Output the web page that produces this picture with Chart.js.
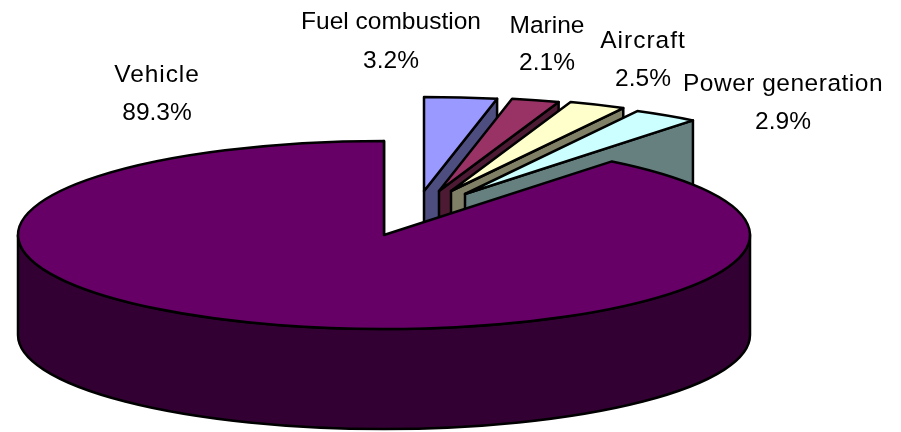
<!DOCTYPE html>
<html lang="en">
<head>
<meta charset="utf-8">
<title>Emission sources</title>
<script src="https://cdn.jsdelivr.net/npm/chart.js@4"></script>
<style>
  html, body { margin: 0; background: #ffffff; }
  canvas { display: block; }
</style>
</head>
<body>
<canvas id="sourcesChart" width="901" height="432"></canvas>
<script>
const categories = ['Vehicle', 'Fuel combustion', 'Marine', 'Aircraft', 'Power generation']
const shares = [89.3, 3.2, 2.1, 2.5, 2.9]

const topColors = ['#660066', '#9999ff', '#993366', '#ffffcc', '#ccffff']
const sideColors = ['#330033', '#4d4d80', '#4d1a33', '#808066', '#668080']

// Doughnut arcs give the angles and radius, this turns them into a tilted 3D pie
const pie3d = {
  id: 'pie3d',

  beforeDatasetDraw(chart, args, opts) {
    const { ctx } = chart
    const arcs = chart.getDatasetMeta(0).data
    // exploded slices sit behind the big one, so paint it last
    const order = arcs.map((_, i) => i).slice(1).concat(0)

    ctx.save()
    ctx.lineWidth = opts.lineWidth
    ctx.lineJoin = 'round'
    ctx.strokeStyle = '#000000'
    order.forEach(i => this.drawSlice(ctx, arcs[i], i, opts))
    ctx.restore()
    return false
  },

  drawSlice(ctx, arc, i, opts) {
    const [dx, dy] = opts.explode[i]
    const cx = arc.x + dx
    const cy = arc.y + dy
    const rx = arc.outerRadius
    const ry = rx * opts.tilt
    const depth = opts.depth
    const start = arc.startAngle
    const end = arc.endAngle

    ctx.fillStyle = sideColors[i]

    // cut wall along the clockwise edge
    const ex = cx + rx * Math.cos(end)
    const ey = cy + ry * Math.sin(end)
    ctx.beginPath()
    ctx.moveTo(cx, cy)
    ctx.lineTo(ex, ey)
    ctx.lineTo(ex, ey + depth)
    ctx.lineTo(cx, cy + depth)
    ctx.closePath()
    ctx.fill()
    ctx.stroke()

    // outer wall, only the part facing front
    const lo = Math.max(start, 0)
    const hi = Math.min(end, Math.PI)
    if (hi > lo) {
      ctx.beginPath()
      ctx.ellipse(cx, cy, rx, ry, 0, lo, hi)
      ctx.ellipse(cx, cy + depth, rx, ry, 0, hi, lo, true)
      ctx.closePath()
      ctx.fill()
      ctx.stroke()
    }

    // top face
    ctx.fillStyle = topColors[i]
    ctx.beginPath()
    ctx.moveTo(cx, cy)
    ctx.ellipse(cx, cy, rx, ry, 0, start, end)
    ctx.closePath()
    ctx.fill()
    ctx.stroke()
  },

  afterDraw(chart, args, opts) {
    const { ctx } = chart
    ctx.save()
    ctx.fillStyle = '#000000'
    ctx.font = opts.font
    ctx.textAlign = 'center'
    categories.forEach((name, i) => {
      const [x, y1, y2, spacing] = opts.labels[i]
      ctx.letterSpacing = spacing + 'px'
      ctx.fillText(name, x, y1)
      ctx.letterSpacing = '0px'
      ctx.fillText(shares[i].toFixed(1) + '%', x, y2)
    })
    ctx.restore()
  }
}

new Chart(document.getElementById('sourcesChart'), {
  type: 'pie',
  data: {
    labels: categories,
    datasets: [{
      data: shares,
      backgroundColor: topColors,
      borderWidth: 0
    }]
  },
  options: {
    responsive: false,
    animation: false,
    radius: 366,
    rotation: 38.52,
    layout: {
      padding: { top: 38, right: 133 }
    },
    plugins: {
      legend: { display: false },
      tooltip: { enabled: false },
      pie3d: {
        tilt: 0.257,
        depth: 100,
        lineWidth: 2.5,
        explode: [[0, 0], [40, -44], [55, -44], [67, -44], [81, -41]],
        font: '24.5px "Liberation Sans", Arial, sans-serif',
        labels: [
          [157, 82, 120, 0.9],
          [391, 29, 68, 0],
          [547, 33, 70, 0],
          [643, 48, 86, 1],
          [783, 91, 129, 0.5]
        ]
      }
    }
  },
  plugins: [pie3d]
})
</script>
</body>
</html>
